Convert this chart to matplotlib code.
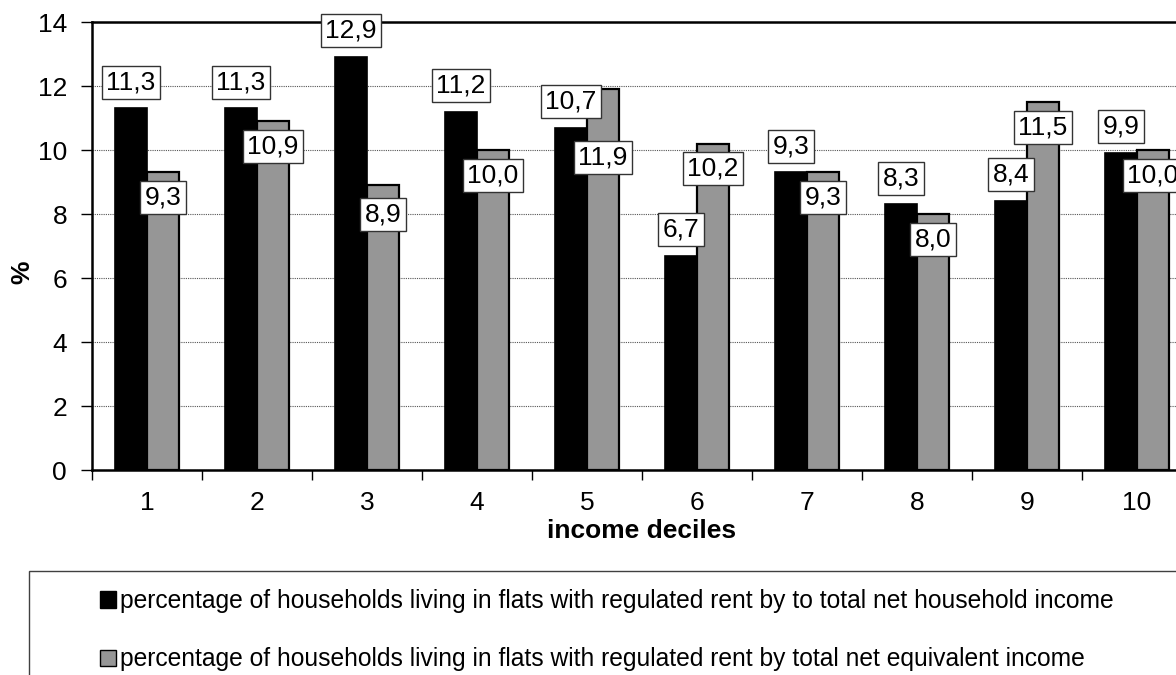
import matplotlib
matplotlib.use("Agg")
import matplotlib.pyplot as plt
from matplotlib.patches import Patch, Rectangle
import numpy as np

# ---- data ----
deciles = ['1', '2', '3', '4', '5', '6', '7', '8', '9', '10']
household_income = [11.3, 11.3, 12.9, 11.2, 10.7, 6.7, 9.3, 8.3, 8.4, 9.9]
equivalent_income = [9.3, 10.9, 8.9, 10.0, 11.9, 10.2, 9.3, 8.0, 11.5, 10.0]
series_names = [
    'percentage of households living in flats with regulated rent by to total net household income',
    'percentage of households living in flats with regulated rent by total net equivalent income',
]
y_ticks = [0, 2, 4, 6, 8, 10, 12, 14]

# label placement offsets (data units, styling only)
black_label_offset = [0.82] * 10
gray_label_offset = [-0.79, -0.79, -0.93, -0.79, -2.12, -0.79, -0.79, -0.79, -0.79, -0.79]

plt.rcParams['font.family'] = ['Liberation Sans', 'DejaVu Sans']

W, H = 1176, 675
fig = plt.figure(figsize=(W / 100, H / 100), dpi=100)
ax = fig.add_axes([92 / W, 205 / H, 1100 / W, 448 / H])

x = np.arange(1, len(deciles) + 1)
w = 0.29
ax.bar(x - w / 2, household_income, w, color='black', edgecolor='black', lw=1.2, zorder=3)
ax.bar(x + w / 2, equivalent_income, w, color='#969696', edgecolor='black', lw=1.6, zorder=3)

ax.set_xlim(0.5, 10.5)
ax.set_ylim(0, 14)

def fmt(v):
    return f"{v:.1f}".replace('.', ',')

box = dict(boxstyle='square,pad=0.17', fc='white', ec='#333333', lw=1)
for xi, v, o in zip(x, household_income, black_label_offset):
    ax.text(xi - w / 2, v + o, fmt(v), ha='center', va='center', fontsize=19,
            bbox=box, zorder=5)
for xi, v, o in zip(x, equivalent_income, gray_label_offset):
    ax.text(xi + w / 2, v + o, fmt(v), ha='center', va='center', fontsize=19,
            bbox=box, zorder=5)

# axes styling
ax.set_yticks(y_ticks)
ax.tick_params(axis='y', direction='out', length=8, width=1, pad=10, labelsize=19)
ax.set_xticks(x, deciles)
ax.tick_params(axis='x', which='major', length=0, pad=15, labelsize=19)
ax.set_xticks(np.arange(0.5, 11, 1), minor=True)
ax.tick_params(axis='x', which='minor', direction='out', length=7, width=1)
for s in ax.spines.values():
    s.set_linewidth(1.8)
ax.yaxis.grid(True, linestyle=(0, (1, 1)), color='#555555', lw=0.8)
ax.set_axisbelow(True)

ax.set_xlabel('income deciles', fontweight='bold', fontsize=19)
ax.xaxis.set_label_coords(0.5, (470 - 531) / 448)
ax.xaxis.label.set_va('center')
ax.set_ylabel('%', fontweight='bold', fontsize=19)
ax.yaxis.set_label_coords((22 - 92) / 1100, (470 - 272) / 448)
ax.yaxis.label.set_va('center')

# legend
frame = Rectangle((29 / W, -0.1), 1.2, (H - 571) / H + 0.1, transform=fig.transFigure,
                  fill=False, ec='#404040', lw=1, clip_on=False)
fig.add_artist(frame)
handles = [Patch(fc='black', ec='black'), Patch(fc='#969696', ec='black')]
fig.legend(handles, series_names, loc='upper left',
           bbox_to_anchor=(100 / W, (H - 589) / H), bbox_transform=fig.transFigure,
           frameon=False, fontsize=17.7, borderpad=0, borderaxespad=0,
           handlelength=0.65, handleheight=0.65,
           handletextpad=0.16, labelspacing=1.4)

fig.savefig('out.png', dpi=100)
